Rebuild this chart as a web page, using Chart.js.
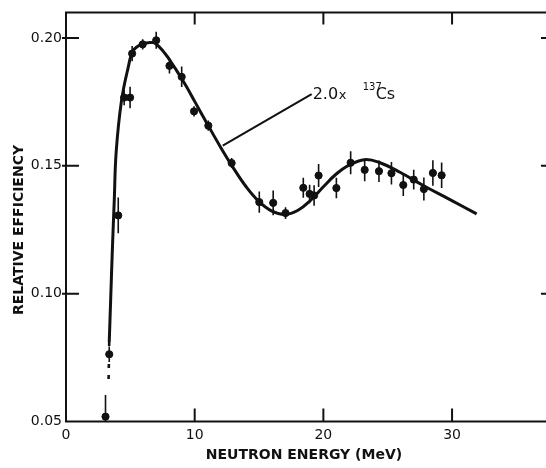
<!DOCTYPE html>
<html>
<head>
<meta charset="utf-8">
<script src="https://cdn.jsdelivr.net/npm/chart.js@4.4.1/dist/chart.umd.min.js"></script>
<style>
  html, body { margin: 0; padding: 0; background: #fff; overflow: hidden; }
  /* canvas is 5px wider than the page: the frame in the scan runs off the right edge */
  #wrap { width: 546px; height: 468px; overflow: hidden; }
</style>
</head>
<body>
<div id="wrap"><canvas id="grafico" width="551" height="468"></canvas></div>
<script>
// measured points (MeV, relative efficiency, half error bar)
const energies = [3.07, 3.36, 4.06, 4.52, 4.98, 5.14, 5.96, 7.01, 8.04, 8.99, 9.95, 11.06, 12.87, 15.02, 16.1,
                  17.06, 18.44, 18.93, 19.28, 19.63, 21.01, 22.12, 23.21, 24.32, 25.29, 26.21, 27.02, 27.81, 28.51, 29.19];
const efficiencies = [0.0519, 0.0763, 0.1306, 0.1767, 0.1767, 0.1939, 0.1975, 0.1991, 0.1891, 0.1848, 0.1713, 0.1657, 0.1511, 0.1358, 0.1355,
                      0.1315, 0.1414, 0.1390, 0.1384, 0.1462, 0.1413, 0.1512, 0.1484, 0.1479, 0.1471, 0.1425, 0.1446, 0.1409, 0.1472, 0.1463];
const errors = [0.0085, 0.003, 0.007, 0.003, 0.0042, 0.003, 0.002, 0.0033, 0.003, 0.004, 0.002, 0.002, 0.002, 0.0042, 0.0048,
                0.0023, 0.0039, 0.0036, 0.004, 0.0045, 0.004, 0.0045, 0.0044, 0.0042, 0.0044, 0.0043, 0.0039, 0.0045, 0.005, 0.005];

// 2.0 x 137Cs curve
const curveX = [3.36, 3.47, 3.6, 3.75, 3.9, 4.31, 4.83, 5.22, 5.87, 6.52, 6.9, 7.68, 8.5, 9.3, 10.0, 11.0, 12.0, 13.0,
                14.0, 15.0, 16.0, 17.0, 18.0, 19.0, 20.0, 21.0, 22.0, 23.2, 24.3, 25.95, 27.76, 29.84, 31.91];
const curveY = [0.0811, 0.0974, 0.1169, 0.1364, 0.1555, 0.1754, 0.1884, 0.1950, 0.1976, 0.1982, 0.1980, 0.1940, 0.1880, 0.1815, 0.1752, 0.1662, 0.1574, 0.1492,
                0.1418, 0.1360, 0.1323, 0.1310, 0.1325, 0.1365, 0.1418, 0.1468, 0.1503, 0.1524, 0.1514, 0.1475, 0.1423, 0.1368, 0.1312];

// dashed continuation below the curve
const dashX = [3.36, 3.31];
const dashY = [0.0811, 0.0665];

// leader line to the label
const leaderX = [12.18, 19.09];
const leaderY = [0.1579, 0.1780];

const xMax = 37.3;
const xTicks = [0, 10, 20, 30];
const yTicks = [0.05, 0.10, 0.15, 0.20];

const ink = '#111';
const pts = (xs, ys) => xs.map((v, i) => ({ x: v, y: ys[i] }));

const errorBars = {
    id: 'errorBars',
    beforeDatasetsDraw(chart) {
        const { ctx, chartArea: a, scales: { x, y } } = chart;
        ctx.save();
        ctx.beginPath();
        ctx.rect(a.left, a.top, a.right - a.left, a.bottom - a.top);
        ctx.clip();
        ctx.strokeStyle = ink;
        ctx.lineWidth = 1.6;
        energies.forEach((e, i) => {
            const px = x.getPixelForValue(e);
            ctx.beginPath();
            ctx.moveTo(px, y.getPixelForValue(efficiencies[i] - errors[i]));
            ctx.lineTo(px, y.getPixelForValue(efficiencies[i] + errors[i]));
            ctx.stroke();
        });
        ctx.restore();
    }
};

const frame = {
    id: 'frame',
    afterDraw(chart) {
        const { ctx, chartArea: a, scales: { x, y } } = chart;
        ctx.save();
        ctx.strokeStyle = ink;
        ctx.lineWidth = 2;
        ctx.beginPath();
        ctx.moveTo(a.right, a.top);
        ctx.lineTo(a.left, a.top);
        ctx.lineTo(a.left, a.bottom);
        ctx.lineTo(a.right, a.bottom);
        ctx.stroke();

        // inward ticks
        ctx.beginPath();
        xTicks.forEach(t => {
            if (t === 0) return;
            const px = x.getPixelForValue(t);
            ctx.moveTo(px, a.top); ctx.lineTo(px, a.top + 12);
            ctx.moveTo(px, a.bottom); ctx.lineTo(px, a.bottom - 13);
        });
        yTicks.forEach(t => {
            if (t <= 0.05) return;
            const py = y.getPixelForValue(t);
            ctx.moveTo(a.left - 4, py); ctx.lineTo(a.left + 13, py);
            ctx.moveTo(a.right - 5, py); ctx.lineTo(a.right, py);
        });
        ctx.stroke();

        // axis titles
        ctx.fillStyle = ink;
        ctx.font = 'bold 14px "DejaVu Sans"';
        ctx.textAlign = 'center';
        ctx.textBaseline = 'middle';
        ctx.fillText('NEUTRON ENERGY (MeV)', 304, 455);
        ctx.save();
        ctx.translate(19, 230);
        ctx.rotate(-Math.PI / 2);
        ctx.fillText('RELATIVE EFFICIENCY', 0, 0);
        ctx.restore();

        // curve label
        const lx = x.getPixelForValue(leaderX[1]);
        const ly = y.getPixelForValue(leaderY[1]);
        ctx.textAlign = 'left';
        ctx.textBaseline = 'alphabetic';
        ctx.font = '16px "DejaVu Sans"';
        ctx.fillText('2.0', lx + 1, ly + 5);
        ctx.font = '13px "DejaVu Sans"';
        ctx.fillText('x', lx + 27, ly + 5);
        ctx.font = '10px "DejaVu Sans"';
        ctx.fillText('137', lx + 51, ly - 4);
        ctx.font = '16px "DejaVu Sans"';
        ctx.fillText('Cs', lx + 64, ly + 5);
        ctx.restore();
    }
};

Chart.defaults.font.family = '"DejaVu Sans"';
Chart.defaults.font.size = 14;
Chart.defaults.color = ink;

new Chart(document.getElementById('grafico').getContext('2d'), {
    type: 'scatter',
    data: {
        datasets: [
            { data: pts(energies, efficiencies), backgroundColor: ink, borderColor: ink, pointRadius: 3.6, pointHoverRadius: 3.6, order: 0 },
            { data: pts(curveX, curveY), showLine: true, borderColor: ink, borderWidth: 3, pointRadius: 0, tension: 0.4, order: 1 },
            { data: pts(dashX, dashY), showLine: true, borderColor: ink, borderWidth: 2.6, borderDash: [4, 7], pointRadius: 0, order: 1 },
            { data: pts(leaderX, leaderY), showLine: true, borderColor: ink, borderWidth: 2, pointRadius: 0, order: 1 }
        ]
    },
    options: {
        responsive: false,
        animation: false,
        devicePixelRatio: 1,
        layout: { padding: { top: 12, right: 0, left: 0, bottom: 0 } },
        plugins: { legend: { display: false }, tooltip: { enabled: false } },
        scales: {
            x: {
                type: 'linear', min: 0, max: xMax,
                grid: { display: false, drawTicks: false },
                border: { display: false },
                afterBuildTicks: s => { s.ticks = xTicks.concat([xMax]).map(v => ({ value: v })); },
                afterFit: s => { s.height = 46.5; },
                ticks: { padding: 5, maxRotation: 0, autoSkip: false, callback: v => (v === xMax ? '' : String(v)) }
            },
            y: {
                type: 'linear', min: 0.05, max: 0.21,
                grid: { display: false, drawTicks: false },
                border: { display: false },
                afterBuildTicks: s => { s.ticks = yTicks.map(v => ({ value: v })); },
                afterFit: s => { s.width = 66; },
                ticks: { padding: 4, callback: v => v.toFixed(2) }
            }
        }
    },
    plugins: [errorBars, frame]
});
</script>
</body>
</html>
